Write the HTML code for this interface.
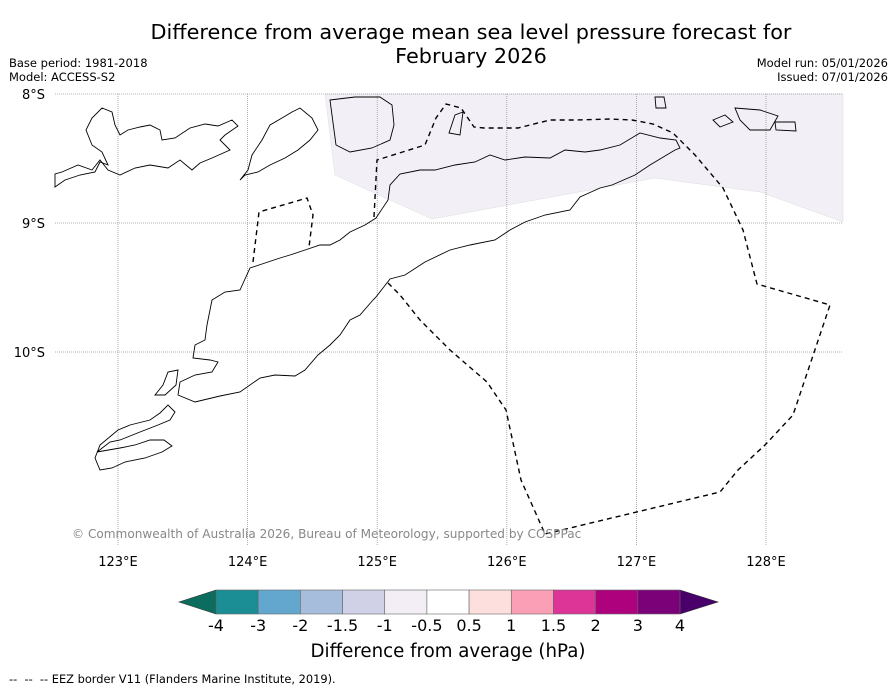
<!DOCTYPE html>
<html><head><meta charset="utf-8"><style>
body{margin:0;background:#fff;font-family:"DejaVu Sans","Liberation Sans",sans-serif;}
#wrap{position:relative;width:896px;height:690px;overflow:hidden;background:#fff}
.t{position:absolute;white-space:nowrap;color:#000}
</style></head><body>
<div id="wrap">
<div class="t" style="left:0;width:942px;top:20px;text-align:center;font-size:20.8px;line-height:24px">Difference from average mean sea level pressure forecast for<br>February 2026</div>
<div class="t" style="left:9px;top:56px;font-size:11.5px;line-height:14px">Base period: 1981-2018<br>Model: ACCESS-S2</div>
<div class="t" style="right:8px;top:56px;font-size:11.5px;line-height:14px;text-align:right">Model run: 05/01/2026<br>Issued: 07/01/2026</div>
<svg id="svg" width="896" height="690" style="position:absolute;left:0;top:0"></svg>
<div class="t" style="left:9px;top:672px;font-size:11.4px">--&nbsp; --&nbsp; -- EEZ border V11 (Flanders Marine Institute, 2019).</div>
</div>
<script>
const lonTicks=[123,124,125,126,127,128];
const latTicks=[8,9,10];
const cbBounds=["-4","-3","-2","-1.5","-1","-0.5","0.5","1","1.5","2","3","4"];
const cbColors=["#1b8e95","#63a7cf","#a6bddb","#d0d1e6","#f3eef6","#ffffff","#fde0dd","#fa9fb5","#dd3497","#ae017e","#7a0177"];
const ns="http://www.w3.org/2000/svg";
const svg=document.getElementById('svg');
const X=lon=>118+(lon-123)*129.6;
const Y=lat=>94+(lat-8)*129;
const FF="DejaVu Sans, Liberation Sans, sans-serif";
function el(tag,attrs,parent){const e=document.createElementNS(ns,tag);for(const k in attrs)e.setAttribute(k,attrs[k]);(parent||svg).appendChild(e);return e;}
let p=el('polygon',{points:"325,94 335,175 432,219 655,178 760,192 843,222 843,94",fill:"#f3eff6",stroke:"#ddd","stroke-width":"0.5"});


lonTicks.forEach(l=>{const x=X(l);
 let g=el('line',{x1:x,y1:94,x2:x,y2:545,stroke:"#999","stroke-width":"0.8","stroke-dasharray":"1,1"});
 
 
 let t=el('text',{x:x,y:566,"text-anchor":"middle","font-size":"13","font-family":FF});t.textContent=l+"°E";
 
 
});
latTicks.forEach(l=>{const y=Y(l);
 let g=el('line',{x1:55,y1:y,x2:843,y2:y,stroke:"#999","stroke-width":"0.8","stroke-dasharray":"1,1"});
 
 
 let t=el('text',{x:45,y:y+5,"text-anchor":"end","font-size":"13","font-family":FF});t.textContent=l+"°S";
 
 
});
const coasts=[
"376,297 390,279 405,275 425,262 450,250 470,245 495,240 510,230 525,222 545,215 570,210 580,197 600,188 612,185 635,175 650,165 675,150 680,148 676,140 660,138 640,133 620,145 600,150 585,152 565,150 550,158 525,157 505,160 490,155 475,162 455,165 435,170 420,170 400,174 390,185 388,200 376,218 365,225 350,232 340,240 330,245 320,245 305,250 290,255 280,258 268,262 250,268 240,290 225,292 212,300 207,325 205,340 195,345 193,358 210,360 218,362 212,372 195,375 180,382 178,395 195,402 220,396 240,392 260,378 275,375 295,376 305,370 318,355 330,345 340,335 350,320 360,315 373,300",
"55,187 65,180 80,175 95,172 100,162 108,165 102,152 92,145 86,130 92,118 102,108 112,112 115,125 120,135 128,130 140,127 150,125 160,130 162,140 175,138 190,128 205,124 218,126 232,120 238,126 225,135 220,140 230,150 212,158 200,163 192,170 180,160 168,168 150,165 135,168 120,175 108,170 100,160 92,170 78,165 62,172 55,174",
"240,180 248,170 252,155 262,140 270,125 282,118 292,112 300,108 312,118 318,130 310,140 298,150 285,158 270,165 258,172 245,175",
"330,100 355,97 380,97 392,105 394,125 390,140 372,148 350,152 336,145",
"449,133 455,115 463,112 460,135",
"655,97 664,97 666,108 656,108",
"735,108 760,110 778,116 770,130 750,130 740,120",
"775,122 795,122 796,131 776,130",
"713,120 725,115 733,122 720,127",
"97,452 110,442 120,440 140,432 158,425 170,420 175,412 168,405 160,413 150,420 130,425 118,430 100,445 95,458 100,470 112,468 125,462 145,458 162,452 172,446 164,440 150,440 135,445 120,448",
"155,395 163,385 168,372 178,370 176,385 165,395"
];
coasts.forEach((c,i)=>{let e=el('polygon',{points:c,fill:"none",stroke:"#000","stroke-width":"0.9"});
 
 });
const eez=[
"253,262 259,212 307,198 313,215 309,247",
"374,217 377,160 425,145 436,118 446,104 461,108 474,127 484,128 518,128 550,120 575,120 610,119 632,120 653,124 673,133 695,155 723,188 743,230 757,284 830,305 793,415 765,445 738,470 720,492 545,534",
"388,283 400,295 420,320 450,350 487,382 506,410 521,480 545,534"
];
eez.forEach(c=>{let e=el('polyline',{points:c,fill:"none",stroke:"#000","stroke-width":"1.4","stroke-dasharray":"5,4"});
 
 });
let cp=el('text',{x:72,y:538,"font-size":"12.1",fill:"#888","font-family":FF});
cp.textContent="© Commonwealth of Australia 2026, Bureau of Meteorology, supported by COSPPac";


const cbL=216,cbR=680,cbT=590,cbB=614,w=(cbR-cbL)/cbColors.length;
let lt=el('polygon',{points:`${cbL},${cbT} 179,${(cbT+cbB)/2} ${cbL},${cbB}`,fill:"#0c6d5f",stroke:"#333","stroke-width":"0.6"});


let rt=el('polygon',{points:`${cbR},${cbT} 718,${(cbT+cbB)/2} ${cbR},${cbB}`,fill:"#49006a",stroke:"#333","stroke-width":"0.6"});


cbColors.forEach((c,i)=>{let r=el('rect',{x:cbL+i*w,y:cbT,width:w,height:cbB-cbT,fill:c,stroke:"#666","stroke-width":"0.6"});
 
 });
cbBounds.forEach((b,i)=>{let t=el('text',{x:cbL+i*w,y:631,"text-anchor":"middle","font-size":"16","font-family":FF});t.textContent=b;
 
 });
let cl=el('text',{x:448,y:657,"text-anchor":"middle","font-size":"18.2","font-family":FF});
cl.textContent="Difference from average (hPa)";


</script>
</body></html>
